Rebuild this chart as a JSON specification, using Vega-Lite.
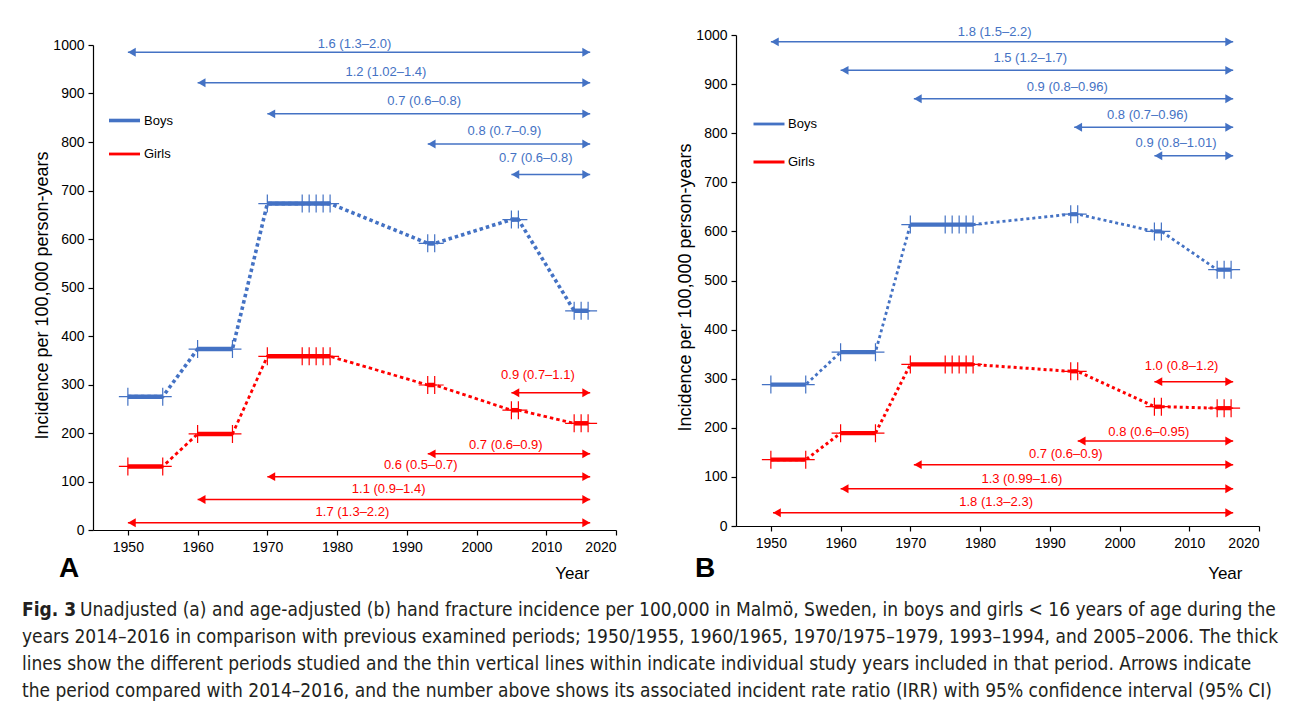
{
  "$schema": "https://vega.github.io/schema/vega-lite/v6.json",
  "padding": {"left": 22, "top": 25, "right": 5, "bottom": 5},
  "background": "white",
  "config": {
    "font": "Liberation Sans",
    "view": {"stroke": null},
    "axis": {"labelFont": "Liberation Sans", "labelFontSize": 14, "labelColor": "#000", "domainColor": "#000", "tickColor": "#000", "domainWidth": 1.2, "tickWidth": 1.2, "grid": false, "titleFont": "Liberation Sans", "titleFontWeight": "normal", "titleColor": "#000"},
    "legend": {"labelFont": "Liberation Sans", "labelFontSize": 13, "labelColor": "#000"}
  },
  "datasets": {
    "pts": [
      {"panel":"A","sex":"Boys","period":1,"year":1950,"value":275},{"panel":"A","sex":"Boys","period":1,"year":1955,"value":275},
      {"panel":"A","sex":"Boys","period":2,"year":1960,"value":373},{"panel":"A","sex":"Boys","period":2,"year":1965,"value":373},
      {"panel":"A","sex":"Boys","period":3,"year":1970,"value":673},{"panel":"A","sex":"Boys","period":3,"year":1975,"value":673},{"panel":"A","sex":"Boys","period":3,"year":1976,"value":673},{"panel":"A","sex":"Boys","period":3,"year":1977,"value":673},{"panel":"A","sex":"Boys","period":3,"year":1978,"value":673},{"panel":"A","sex":"Boys","period":3,"year":1979,"value":673},
      {"panel":"A","sex":"Boys","period":4,"year":1993,"value":591},{"panel":"A","sex":"Boys","period":4,"year":1994,"value":591},
      {"panel":"A","sex":"Boys","period":5,"year":2005,"value":640},{"panel":"A","sex":"Boys","period":5,"year":2006,"value":640},
      {"panel":"A","sex":"Boys","period":6,"year":2014,"value":452},{"panel":"A","sex":"Boys","period":6,"year":2015,"value":452},{"panel":"A","sex":"Boys","period":6,"year":2016,"value":452},
      {"panel":"A","sex":"Girls","period":1,"year":1950,"value":131},{"panel":"A","sex":"Girls","period":1,"year":1955,"value":131},
      {"panel":"A","sex":"Girls","period":2,"year":1960,"value":198},{"panel":"A","sex":"Girls","period":2,"year":1965,"value":198},
      {"panel":"A","sex":"Girls","period":3,"year":1970,"value":358},{"panel":"A","sex":"Girls","period":3,"year":1975,"value":358},{"panel":"A","sex":"Girls","period":3,"year":1976,"value":358},{"panel":"A","sex":"Girls","period":3,"year":1977,"value":358},{"panel":"A","sex":"Girls","period":3,"year":1978,"value":358},{"panel":"A","sex":"Girls","period":3,"year":1979,"value":358},
      {"panel":"A","sex":"Girls","period":4,"year":1993,"value":299},{"panel":"A","sex":"Girls","period":4,"year":1994,"value":299},
      {"panel":"A","sex":"Girls","period":5,"year":2005,"value":247},{"panel":"A","sex":"Girls","period":5,"year":2006,"value":247},
      {"panel":"A","sex":"Girls","period":6,"year":2014,"value":220},{"panel":"A","sex":"Girls","period":6,"year":2015,"value":220},{"panel":"A","sex":"Girls","period":6,"year":2016,"value":220},
      {"panel":"B","sex":"Boys","period":1,"year":1950,"value":288},{"panel":"B","sex":"Boys","period":1,"year":1955,"value":288},
      {"panel":"B","sex":"Boys","period":2,"year":1960,"value":354},{"panel":"B","sex":"Boys","period":2,"year":1965,"value":354},
      {"panel":"B","sex":"Boys","period":3,"year":1970,"value":614},{"panel":"B","sex":"Boys","period":3,"year":1975,"value":614},{"panel":"B","sex":"Boys","period":3,"year":1976,"value":614},{"panel":"B","sex":"Boys","period":3,"year":1977,"value":614},{"panel":"B","sex":"Boys","period":3,"year":1978,"value":614},{"panel":"B","sex":"Boys","period":3,"year":1979,"value":614},
      {"panel":"B","sex":"Boys","period":4,"year":1993,"value":635},{"panel":"B","sex":"Boys","period":4,"year":1994,"value":635},
      {"panel":"B","sex":"Boys","period":5,"year":2005,"value":600},{"panel":"B","sex":"Boys","period":5,"year":2006,"value":600},
      {"panel":"B","sex":"Boys","period":6,"year":2014,"value":522},{"panel":"B","sex":"Boys","period":6,"year":2015,"value":522},{"panel":"B","sex":"Boys","period":6,"year":2016,"value":522},
      {"panel":"B","sex":"Girls","period":1,"year":1950,"value":135},{"panel":"B","sex":"Girls","period":1,"year":1955,"value":135},
      {"panel":"B","sex":"Girls","period":2,"year":1960,"value":189},{"panel":"B","sex":"Girls","period":2,"year":1965,"value":189},
      {"panel":"B","sex":"Girls","period":3,"year":1970,"value":329},{"panel":"B","sex":"Girls","period":3,"year":1975,"value":329},{"panel":"B","sex":"Girls","period":3,"year":1976,"value":329},{"panel":"B","sex":"Girls","period":3,"year":1977,"value":329},{"panel":"B","sex":"Girls","period":3,"year":1978,"value":329},{"panel":"B","sex":"Girls","period":3,"year":1979,"value":329},
      {"panel":"B","sex":"Girls","period":4,"year":1993,"value":315},{"panel":"B","sex":"Girls","period":4,"year":1994,"value":315},
      {"panel":"B","sex":"Girls","period":5,"year":2005,"value":243},{"panel":"B","sex":"Girls","period":5,"year":2006,"value":243},
      {"panel":"B","sex":"Girls","period":6,"year":2014,"value":240},{"panel":"B","sex":"Girls","period":6,"year":2015,"value":240},{"panel":"B","sex":"Girls","period":6,"year":2016,"value":240}
    ],
    "arrows": [
      {"panel":"A","sex":"Boys","from":1950,"to":2016.3,"value":985,"label":"1.6 (1.3–2.0)","lx":1982.5,"ly":1002},
      {"panel":"A","sex":"Boys","from":1960,"to":2016.3,"value":922,"label":"1.2 (1.02–1.4)","lx":1987,"ly":944},
      {"panel":"A","sex":"Boys","from":1970,"to":2016.3,"value":858,"label":"0.7 (0.6–0.8)","lx":1992.5,"ly":884},
      {"panel":"A","sex":"Boys","from":1993,"to":2016.3,"value":796,"label":"0.8 (0.7–0.9)","lx":2004,"ly":823},
      {"panel":"A","sex":"Boys","from":2005,"to":2016.3,"value":733,"label":"0.7 (0.6–0.8)","lx":2008.5,"ly":767},
      {"panel":"A","sex":"Girls","from":2005,"to":2016.3,"value":283,"label":"0.9 (0.7–1.1)","lx":2008.8,"ly":320},
      {"panel":"A","sex":"Girls","from":1993,"to":2016.3,"value":157,"label":"0.7 (0.6–0.9)","lx":2004.2,"ly":176},
      {"panel":"A","sex":"Girls","from":1970,"to":2016.3,"value":110,"label":"0.6 (0.5–0.7)","lx":1992,"ly":133},
      {"panel":"A","sex":"Girls","from":1960,"to":2016.3,"value":63,"label":"1.1 (0.9–1.4)","lx":1987.4,"ly":85},
      {"panel":"A","sex":"Girls","from":1950,"to":2016.3,"value":15,"label":"1.7 (1.3–2.2)","lx":1982.2,"ly":38},
      {"panel":"B","sex":"Boys","from":1950,"to":2016.3,"value":986,"label":"1.8 (1.5–2.2)","lx":1982.1,"ly":1007},
      {"panel":"B","sex":"Boys","from":1960,"to":2016.3,"value":928,"label":"1.5 (1.2–1.7)","lx":1987.2,"ly":953},
      {"panel":"B","sex":"Boys","from":1970.5,"to":2016.3,"value":870,"label":"0.9 (0.8–0.96)","lx":1992.5,"ly":894},
      {"panel":"B","sex":"Boys","from":1993.5,"to":2016.3,"value":812,"label":"0.8 (0.7–0.96)","lx":2004,"ly":838},
      {"panel":"B","sex":"Boys","from":2005,"to":2016.3,"value":754,"label":"0.9 (0.8–1.01)","lx":2008.1,"ly":780},
      {"panel":"B","sex":"Girls","from":2005,"to":2016.3,"value":294,"label":"1.0 (0.8–1.2)","lx":2008.9,"ly":325},
      {"panel":"B","sex":"Girls","from":1994,"to":2016.3,"value":173,"label":"0.8 (0.6–0.95)","lx":2004.2,"ly":192},
      {"panel":"B","sex":"Girls","from":1970.5,"to":2016.3,"value":125,"label":"0.7 (0.6–0.9)","lx":1992.3,"ly":147},
      {"panel":"B","sex":"Girls","from":1960,"to":2016.3,"value":76,"label":"1.3 (0.99–1.6)","lx":1986,"ly":96},
      {"panel":"B","sex":"Girls","from":1950.3,"to":2016.3,"value":27,"label":"1.8 (1.3–2.3)","lx":1982.3,"ly":48}
    ],
    "caption": [
      {"line":1,"seg":"head","text":"Fig. 3"},
      {"line":1,"seg":"rest","text":"Unadjusted (a) and age-adjusted (b) hand fracture incidence per 100,000 in Malmö, Sweden, in boys and girls < 16 years of age during the"},
      {"line":2,"seg":"body","text":"years 2014–2016 in comparison with previous examined periods; 1950/1955, 1960/1965, 1970/1975–1979, 1993–1994, and 2005–2006. The thick"},
      {"line":3,"seg":"body","text":"lines show the different periods studied and the thin vertical lines within indicate individual study years included in that period. Arrows indicate"},
      {"line":4,"seg":"body","text":"the period compared with 2014–2016, and the number above shows its associated incident rate ratio (IRR) with 95% confidence interval (95% CI)"}
    ]
  },
  "spacing": 14,
  "vconcat": [
    {
      "bounds": "flush",
      "spacing": 120,
      "resolve": {"scale": {"color": "independent", "strokeWidth": "independent"}, "legend": {"color": "independent"}},
      "hconcat": [
        {
          "width": 523,
          "height": 495,
          "title": {"text": "A", "orient": "bottom", "anchor": "start", "frame": "group", "dx": -34, "offset": -26, "fontSize": 28, "fontWeight": "bold", "font": "Liberation Sans", "color": "#000"},
          "layer": [
            {
              "data": {"name": "pts"},
              "transform": [{"filter": "datum.panel === 'A'"}],
              "mark": {"type": "line", "strokeDash": [3.5, 3]},
              "encoding": {
                "x": {"field": "year", "type": "quantitative", "scale": {"domain": [1945, 2020], "nice": false, "zero": false},
                      "axis": {"values": [1950,1955,1960,1965,1970,1975,1980,1985,1990,1995,2000,2005,2010,2015,2020], "format": "d", "labelExpr": "datum.value % 10 == 0 ? datum.label : ''", "tickSize": 5, "labelPadding": 5, "title": "Year", "titleFontSize": 17, "titleX": 496, "titleY": 43, "titleAlign": "right", "titleBaseline": "middle"}},
                "y": {"field": "value", "type": "quantitative", "scale": {"domain": [0, 1000], "range": [495, 10], "nice": false},
                      "axis": {"values": [0,100,200,300,400,500,600,700,800,900,1000], "format": "d", "tickSize": 5, "labelPadding": 4, "title": "Incidence per 100,000 person-years", "titleFontSize": 18, "titlePadding": 1, "titleY": 260}},
                "color": {"field": "sex", "type": "nominal", "scale": {"domain": ["Boys", "Girls"], "range": ["#4472C4", "#FF0000"]},
                          "legend": {"orient": "none", "legendX": 14, "legendY": 68, "title": null, "symbolType": "M-1,0H1", "symbolSize": 961, "symbolStrokeWidth": 4, "rowPadding": 9, "labelOffset": 2, "padding": 0, "labelFontSize": 13}},
                "strokeWidth": {"field": "sex", "type": "nominal", "scale": {"domain": ["Boys", "Girls"], "range": [3.6, 2.8]}, "legend": null},
                "detail": {"field": "sex"}
              }
            },
            {
              "data": {"name": "pts"},
              "transform": [{"filter": "datum.panel === 'A'"}],
              "mark": {"type": "line", "strokeWidth": 4.5},
              "encoding": {
                "x": {"field": "year", "type": "quantitative"},
                "y": {"field": "value", "type": "quantitative"},
                "color": {"field": "sex", "type": "nominal", "legend": null},
                "detail": {"field": "period", "type": "nominal"}
              }
            },
            {
              "data": {"name": "pts"},
              "transform": [{"filter": "datum.panel === 'A'"}],
              "mark": {"type": "point", "shape": "M-1,0H1M0,-1V1", "size": 324, "filled": false, "strokeWidth": 1.2, "opacity": 1},
              "encoding": {
                "x": {"field": "year", "type": "quantitative"},
                "y": {"field": "value", "type": "quantitative"},
                "color": {"field": "sex", "type": "nominal", "legend": null}
              }
            },
            {
              "data": {"name": "arrows"},
              "transform": [{"filter": "datum.panel === 'A'"}],
              "mark": {"type": "rule", "strokeWidth": 1.5},
              "encoding": {
                "x": {"field": "from", "type": "quantitative"},
                "x2": {"field": "to"},
                "y": {"field": "value", "type": "quantitative"},
                "color": {"field": "sex", "type": "nominal", "legend": null}
              }
            },
            {
              "data": {"name": "arrows"},
              "transform": [{"filter": "datum.panel === 'A'"}],
              "mark": {"type": "point", "shape": "triangle-left", "filled": true, "size": 80, "xOffset": 4, "opacity": 1},
              "encoding": {
                "x": {"field": "from", "type": "quantitative"},
                "y": {"field": "value", "type": "quantitative"},
                "color": {"field": "sex", "type": "nominal", "legend": null}
              }
            },
            {
              "data": {"name": "arrows"},
              "transform": [{"filter": "datum.panel === 'A'"}],
              "mark": {"type": "point", "shape": "triangle-right", "filled": true, "size": 80, "xOffset": -4, "opacity": 1},
              "encoding": {
                "x": {"field": "to", "type": "quantitative"},
                "y": {"field": "value", "type": "quantitative"},
                "color": {"field": "sex", "type": "nominal", "legend": null}
              }
            },
            {
              "data": {"name": "arrows"},
              "transform": [{"filter": "datum.panel === 'A'"}],
              "mark": {"type": "text", "fontSize": 13, "font": "Liberation Sans", "baseline": "middle"},
              "encoding": {
                "x": {"field": "lx", "type": "quantitative"},
                "y": {"field": "ly", "type": "quantitative"},
                "text": {"field": "label"},
                "color": {"field": "sex", "type": "nominal", "legend": null}
              }
            }
          ]
        },
        {
          "width": 523,
          "height": 491,
          "title": {"text": "B", "orient": "bottom", "anchor": "start", "frame": "group", "dx": -41, "offset": -26, "fontSize": 28, "fontWeight": "bold", "font": "Liberation Sans", "color": "#000"},
          "layer": [
            {
              "data": {"name": "pts"},
              "transform": [{"filter": "datum.panel === 'B'"}],
              "mark": {"type": "line", "strokeDash": [3, 3]},
              "encoding": {
                "x": {"field": "year", "type": "quantitative", "scale": {"domain": [1945, 2020], "nice": false, "zero": false},
                      "axis": {"values": [1950,1955,1960,1965,1970,1975,1980,1985,1990,1995,2000,2005,2010,2015,2020], "format": "d", "labelExpr": "datum.value % 10 == 0 ? datum.label : ''", "tickSize": 5, "labelPadding": 5, "title": "Year", "titleFontSize": 17, "titleX": 506, "titleY": 47, "titleAlign": "right", "titleBaseline": "middle"}},
                "y": {"field": "value", "type": "quantitative", "scale": {"domain": [0, 1000], "nice": false},
                      "axis": {"values": [0,100,200,300,400,500,600,700,800,900,1000], "format": "d", "tickSize": 5, "labelPadding": 4, "title": "Incidence per 100,000 person-years", "titleFontSize": 18, "titlePadding": 1, "titleY": 252}},
                "color": {"field": "sex", "type": "nominal", "scale": {"domain": ["Boys", "Girls"], "range": ["#4472C4", "#FF0000"]},
                          "legend": {"orient": "none", "legendX": 16, "legendY": 72, "title": null, "symbolType": "M-1,0H1", "symbolSize": 961, "symbolStrokeWidth": 4, "rowPadding": 14, "labelOffset": 2, "padding": 0, "labelFontSize": 13}},
                "strokeWidth": {"field": "sex", "type": "nominal", "scale": {"domain": ["Boys", "Girls"], "range": [2.8, 3]}, "legend": null},
                "detail": {"field": "sex"}
              }
            },
            {
              "data": {"name": "pts"},
              "transform": [{"filter": "datum.panel === 'B'"}],
              "mark": {"type": "line", "strokeWidth": 4.2},
              "encoding": {
                "x": {"field": "year", "type": "quantitative"},
                "y": {"field": "value", "type": "quantitative"},
                "color": {"field": "sex", "type": "nominal", "legend": null},
                "detail": {"field": "period", "type": "nominal"}
              }
            },
            {
              "data": {"name": "pts"},
              "transform": [{"filter": "datum.panel === 'B'"}],
              "mark": {"type": "point", "shape": "M-1,0H1M0,-1V1", "size": 324, "filled": false, "strokeWidth": 1.2, "opacity": 1},
              "encoding": {
                "x": {"field": "year", "type": "quantitative"},
                "y": {"field": "value", "type": "quantitative"},
                "color": {"field": "sex", "type": "nominal", "legend": null}
              }
            },
            {
              "data": {"name": "arrows"},
              "transform": [{"filter": "datum.panel === 'B'"}],
              "mark": {"type": "rule", "strokeWidth": 1.5},
              "encoding": {
                "x": {"field": "from", "type": "quantitative"},
                "x2": {"field": "to"},
                "y": {"field": "value", "type": "quantitative"},
                "color": {"field": "sex", "type": "nominal", "legend": null}
              }
            },
            {
              "data": {"name": "arrows"},
              "transform": [{"filter": "datum.panel === 'B'"}],
              "mark": {"type": "point", "shape": "triangle-left", "filled": true, "size": 80, "xOffset": 4, "opacity": 1},
              "encoding": {
                "x": {"field": "from", "type": "quantitative"},
                "y": {"field": "value", "type": "quantitative"},
                "color": {"field": "sex", "type": "nominal", "legend": null}
              }
            },
            {
              "data": {"name": "arrows"},
              "transform": [{"filter": "datum.panel === 'B'"}],
              "mark": {"type": "point", "shape": "triangle-right", "filled": true, "size": 80, "xOffset": -4, "opacity": 1},
              "encoding": {
                "x": {"field": "to", "type": "quantitative"},
                "y": {"field": "value", "type": "quantitative"},
                "color": {"field": "sex", "type": "nominal", "legend": null}
              }
            },
            {
              "data": {"name": "arrows"},
              "transform": [{"filter": "datum.panel === 'B'"}],
              "mark": {"type": "text", "fontSize": 13, "font": "Liberation Sans", "baseline": "middle"},
              "encoding": {
                "x": {"field": "lx", "type": "quantitative"},
                "y": {"field": "ly", "type": "quantitative"},
                "text": {"field": "label"},
                "color": {"field": "sex", "type": "nominal", "legend": null}
              }
            }
          ]
        }
      ]
    },
    {
      "width": 1160,
      "height": 107,
      "data": {"name": "caption"},
      "encoding": {
        "y": {"field": "line", "type": "ordinal", "scale": {"type": "point", "padding": 0.5}, "axis": null},
        "x": {"value": 0},
        "text": {"field": "text"}
      },
      "layer": [
        {"transform": [{"filter": "datum.seg === 'head'"}], "mark": {"type": "text", "align": "left", "baseline": "middle", "font": "DejaVu Sans Condensed, Liberation Sans, sans-serif", "fontSize": 19, "fontWeight": "bold", "dx": -71, "color": "#231f20"}},
        {"transform": [{"filter": "datum.seg === 'rest'"}], "mark": {"type": "text", "align": "left", "baseline": "middle", "font": "DejaVu Sans Condensed, Liberation Sans, sans-serif", "fontSize": 19, "dx": -13, "color": "#231f20"}},
        {"transform": [{"filter": "datum.seg === 'body'"}], "mark": {"type": "text", "align": "left", "baseline": "middle", "font": "DejaVu Sans Condensed, Liberation Sans, sans-serif", "fontSize": 19, "dx": -71, "color": "#231f20"}}
      ]
    }
  ]
}
